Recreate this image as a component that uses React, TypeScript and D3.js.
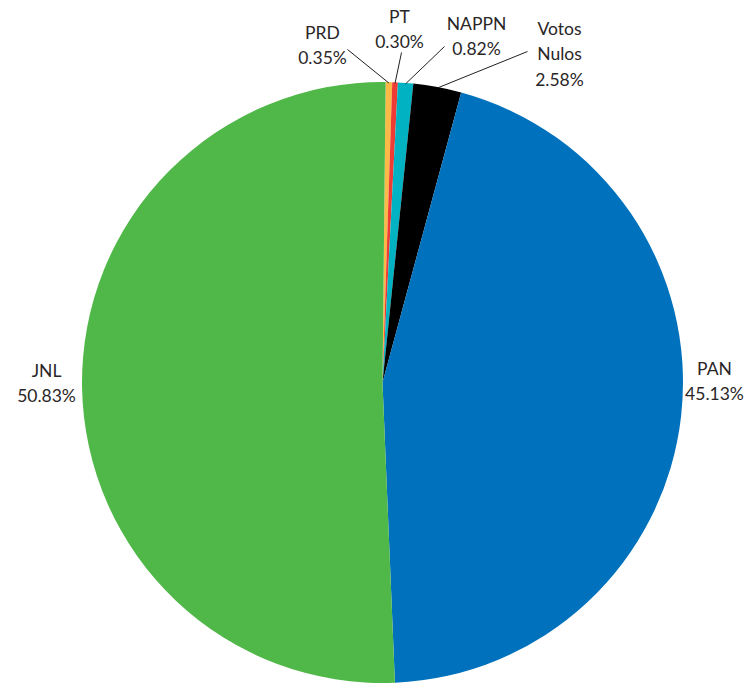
import React, { useEffect, useRef } from 'react';
import * as d3 from 'd3';

// slices, clockwise from 12 o'clock
const parties = ['PRD', 'PT', 'NAPPN', 'Votos Nulos', 'PAN', 'JNL'];
const shares = [0.35, 0.30, 0.82, 2.58, 45.13, 50.83];
const colors = ['#fbb947', '#ee3b33', '#00b2c2', '#000000', '#0071bc', '#50b848'];

// label text lines for each slice
const labelLines = [
  ['PRD', '0.35%'],
  ['PT', '0.30%'],
  ['NAPPN', '0.82%'],
  ['Votos', 'Nulos', '2.58%'],
  ['PAN', '45.13%'],
  ['JNL', '50.83%'],
];

const W = 744;
const H = 686;

const App: React.FC = () => {
  const svgRef = useRef<SVGSVGElement>(null);

  useEffect(() => {
    if (!svgRef.current) return;
    const svg = d3.select(svgRef.current);
    svg.selectAll('*').remove();

    const cx = 382.5;
    const cy = 382.5;
    const r = 300.5;
    const startOffset = (0.6 * Math.PI) / 180;

    const data = parties.map((p, i) => ({ name: p, value: shares[i], color: colors[i], lines: labelLines[i] }));

    const pie = d3.pie<any>()
      .value(d => d.value)
      .sort(null)
      .startAngle(startOffset)
      .endAngle(startOffset + Math.PI * 2);

    const arc = d3.arc<any>().innerRadius(0).outerRadius(r);

    const g = svg.append('g').attr('transform', `translate(${cx},${cy})`);
    const arcs = pie(data);

    g.selectAll('path.slice')
      .data(arcs)
      .enter()
      .append('path')
      .attr('class', 'slice')
      .attr('d', arc as any)
      .attr('fill', d => d.data.color);

    // label placement relative to pie centre (text centre x, first baseline y), plus leader line end
    const labelPos: Record<string, { x: number; y: number; lead?: [number, number] }> = {
      'PRD': { x: -60, y: -344, lead: [-35, -333] },
      'PT': { x: 17, y: -360, lead: [19, -330] },
      'NAPPN': { x: 94, y: -353, lead: [62, -336] },
      'Votos Nulos': { x: 177, y: -348, lead: [145, -331] },
      'PAN': { x: 332, y: -8 },
      'JNL': { x: -336, y: -6 },
    };

    const lineH = 25.5;

    arcs.forEach(a => {
      const pos = labelPos[a.data.name];
      if (pos.lead) {
        const mid = (a.startAngle + a.endAngle) / 2;
        const sx = Math.sin(mid) * (r - 1);
        const sy = -Math.cos(mid) * (r - 1);
        g.append('line')
          .attr('x1', sx).attr('y1', sy)
          .attr('x2', pos.lead[0]).attr('y2', pos.lead[1])
          .attr('stroke', '#231f20')
          .attr('stroke-width', 1);
      }
      const t = g.append('text')
        .attr('text-anchor', 'middle')
        .attr('font-family', 'Lato, "Open Sans", sans-serif')
        .attr('font-size', 17.5)
        .attr('fill', '#2a2627');
      a.data.lines.forEach((ln: string, i: number) => {
        t.append('tspan')
          .attr('x', pos.x)
          .attr('y', pos.y + i * lineH)
          .text(ln);
      });
    });
  }, []);

  return (
    <svg
      ref={svgRef}
      width={W}
      height={H}
      style={{ position: 'absolute', left: 0, top: 0, background: '#fff' }}
    />
  );
};

export default App;
